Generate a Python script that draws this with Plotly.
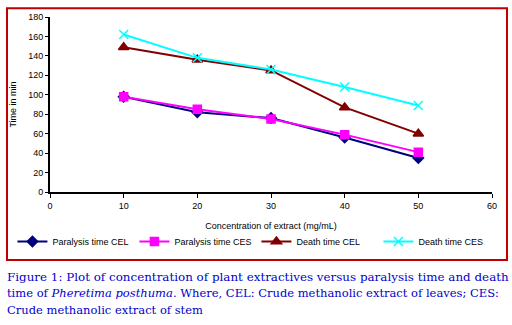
import plotly.graph_objects as go

conc = [10, 20, 30, 40, 50]
paralysis_cel = [98, 82, 76, 56, 35]
paralysis_ces = [98, 85, 75, 59, 41]
death_cel = [149, 136, 125, 87, 60]
death_ces = [162, 138, 126, 108, 89]

series = [
    ("Paralysis time CEL", paralysis_cel, "#000080", "diamond", 8),
    ("Paralysis time CES", paralysis_ces, "#ff00ff", "square", 8),
    ("Death time CEL", death_cel, "#800000", "triangle-up", 9),
    ("Death time CES", death_ces, "#00ffff", "x-thin-open", 9),
]

fig = go.Figure()
for name, vals, col, sym, sz in series:
    fig.add_trace(go.Scatter(
        x=conc, y=vals, name=name, mode="lines+markers",
        line=dict(color=col, width=2),
        marker=dict(symbol=sym, size=sz, color=col, line=dict(color=col, width=1.5)),
    ))

axis_font = dict(family="Liberation Sans, Arial", size=9, color="black")
fig.update_layout(
    width=512, height=325,
    margin=dict(l=50, r=20, t=12, b=133),
    paper_bgcolor="white", plot_bgcolor="white",
    font=axis_font,
    showlegend=True,
    legend=dict(orientation="h", x=-0.085, y=-0.283, xanchor="left", yanchor="middle",
                font=dict(family="Liberation Sans, Arial", size=9, color="black"),
                entrywidth=77, entrywidthmode="pixels", itemwidth=30,
                bgcolor="rgba(0,0,0,0)"),
    xaxis=dict(range=[0, 60], dtick=10, showgrid=False, zeroline=False,
               showline=True, linecolor="black", linewidth=2,
               ticks="outside", ticklen=4, tickcolor="black",
               title=dict(text="Concentration of extract (mg/mL)", font=axis_font, standoff=13)),
    yaxis=dict(range=[0, 180], dtick=20, showgrid=False, zeroline=False,
               showline=True, linecolor="black", linewidth=2,
               ticks="outside", ticklen=3, tickcolor="black",
               title=dict(text="Time in min", font=axis_font, standoff=10)),
)

fig.add_shape(type="rect", xref="paper", yref="paper",
              x0=(7 - 50) / 442, x1=(507 - 50) / 442,
              y0=1 - (262 - 12) / 180, y1=1 - (3 - 12) / 180,
              line=dict(color="#c00000", width=2))

caption_lines = [
    ("Figure 1: Plot of concentration of plant extractives versus paralysis time and death", 11.9),
    ("time of <i>Pheretima posthuma</i>. Where, CEL: Crude methanolic extract of leaves; CES:", 11.5),
    ("Crude methanolic extract of stem", 11.5),
]
for i, (line, fs) in enumerate(caption_lines):
    py = 279 + i * 17
    fig.add_annotation(text=line, xref="paper", yref="paper",
                       x=(5 - 50) / 442, y=1 - (py - 12) / 180,
                       xanchor="left", yanchor="middle", showarrow=False,
                       font=dict(family="DejaVu Serif", size=fs, color="#0000cc"))

fig.write_html("out.html")
